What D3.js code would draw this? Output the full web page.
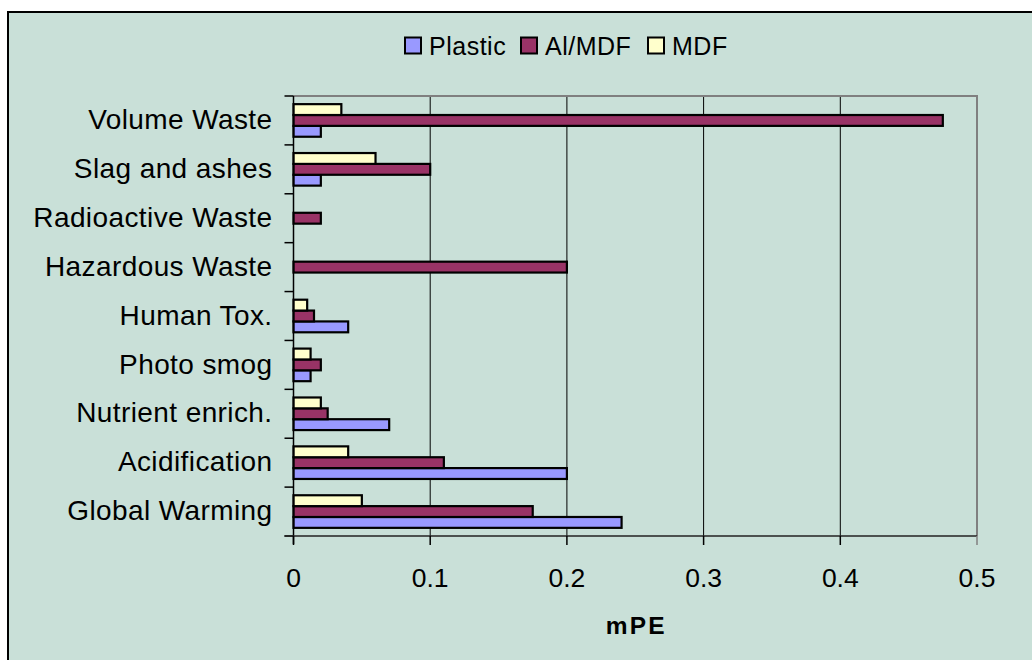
<!DOCTYPE html>
<html>
<head>
<meta charset="utf-8">
<script src="https://cdn.jsdelivr.net/npm/d3@7"></script>
<style>
  html, body { margin: 0; padding: 0; background: #ffffff; }
  svg { display: block; font-family: "Liberation Sans", Arial, sans-serif; }
</style>
</head>
<body>
<svg id="chart" width="1032" height="660"></svg>
<script>
// ---- data ----
const categories = ["Global Warming", "Acidification", "Nutrient enrich.", "Photo smog", "Human Tox.",
                    "Hazardous Waste", "Radioactive Waste", "Slag and ashes", "Volume Waste"];
const seriesNames = ["Plastic", "Al/MDF", "MDF"];
const plasticValues = [0.24, 0.2, 0.07, 0.0125, 0.04, 0, 0, 0.02, 0.02];
const alMdfValues   = [0.175, 0.11, 0.025, 0.02, 0.015, 0.2, 0.02, 0.1, 0.475];
const mdfValues     = [0.05, 0.04, 0.02, 0.0125, 0.01, 0, 0, 0.06, 0.035];
const xTicks = [0, 0.1, 0.2, 0.3, 0.4, 0.5];
const xTickLabels = ["0", "0.1", "0.2", "0.3", "0.4", "0.5"];
const axisTitle = "mPE";
const seriesColors = ["#9999FF", "#993366", "#FFFFCC"];

// ---- layout ----
const svg = d3.select("#chart");
const bg = "#C9E0D8";
const plot = { left: 293.5, right: 977, top: 96, bottom: 536 };

// chart area background + border (top/left visible)
svg.append("rect").attr("x", 8).attr("y", 12).attr("width", 1100).attr("height", 700)
  .attr("fill", bg).attr("stroke", "#000").attr("stroke-width", 2);

const x = d3.scaleLinear().domain([0, 0.5]).range([plot.left, plot.right]);
const yCats = categories.slice().reverse(); // top to bottom
const y = d3.scaleBand().domain(yCats).range([plot.top, plot.bottom]).paddingInner(0).paddingOuter(0);
const drawOrder = ["MDF", "Al/MDF", "Plastic"]; // top to bottom within group
const ySub = d3.scaleBand().domain(drawOrder).range([0, y.bandwidth()]).paddingInner(0).paddingOuter(0.75);

const valuesBySeries = { "Plastic": plasticValues, "Al/MDF": alMdfValues, "MDF": mdfValues };
const colorBySeries = {};
seriesNames.forEach((s, i) => colorBySeries[s] = seriesColors[i]);

// gridlines
svg.append("g").selectAll("line").data(xTicks.slice(1, -1)).join("line")
  .attr("x1", d => x(d)).attr("x2", d => x(d))
  .attr("y1", plot.top).attr("y2", plot.bottom)
  .attr("stroke", "#000").attr("stroke-width", 1);

// plot border top & right (grey)
svg.append("path")
  .attr("d", `M${plot.left},${plot.top}H${plot.right}V${plot.bottom}`)
  .attr("fill", "none").attr("stroke", "#808080").attr("stroke-width", 2);

// bars
const rows = [];
categories.forEach((c, i) => {
  seriesNames.forEach(s => rows.push({ cat: c, series: s, value: valuesBySeries[s][i] }));
});
svg.append("g").selectAll("rect").data(rows.filter(d => d.value > 0)).join("rect")
  .attr("x", x(0))
  .attr("y", d => y(d.cat) + ySub(d.series))
  .attr("width", d => x(d.value) - x(0))
  .attr("height", ySub.bandwidth())
  .attr("fill", d => colorBySeries[d.series])
  .attr("stroke", "#000").attr("stroke-width", 2.2);

// y axis
const yAxisG = svg.append("g");
yAxisG.append("line").attr("x1", plot.left).attr("x2", plot.left)
  .attr("y1", plot.top).attr("y2", plot.bottom + 8).attr("stroke", "#000").attr("stroke-width", 1.5);
const yTickPos = d3.range(categories.length + 1).map(i => plot.top + i * y.step());
yAxisG.selectAll("line.tk").data(yTickPos).join("line").attr("class", "tk")
  .attr("x1", plot.left - 9).attr("x2", plot.left).attr("y1", d => d).attr("y2", d => d)
  .attr("stroke", "#000").attr("stroke-width", 1.5);
yAxisG.selectAll("text").data(yCats).join("text")
  .attr("x", 272.5).attr("y", d => y(d) + y.bandwidth() / 2)
  .attr("dy", "0.31em")
  .attr("text-anchor", "end").attr("font-size", 28).attr("letter-spacing", 0.4).attr("fill", "#000")
  .text(d => d);

// x axis
const xAxisG = svg.append("g");
xAxisG.append("line").attr("x1", plot.left - 9).attr("x2", plot.right)
  .attr("y1", plot.bottom).attr("y2", plot.bottom).attr("stroke", "#222").attr("stroke-width", 1.5);
xAxisG.selectAll("line.tk").data(xTicks).join("line").attr("class", "tk")
  .attr("x1", d => x(d)).attr("x2", d => x(d)).attr("y1", plot.bottom).attr("y2", plot.bottom + 9)
  .attr("stroke", (d, i) => i === xTicks.length - 1 ? "#808080" : "#000").attr("stroke-width", 1.5);
xAxisG.selectAll("text").data(xTicks).join("text")
  .attr("x", d => x(d)).attr("y", 587)
  .attr("text-anchor", "middle").attr("font-size", 26.5).attr("fill", "#000")
  .text((d, i) => xTickLabels[i]);
svg.append("text").attr("x", (plot.left + plot.right) / 2 + 1).attr("y", 634.3)
  .attr("text-anchor", "middle").attr("font-size", 24.5).attr("font-weight", "bold")
  .attr("letter-spacing", 2.2)
  .text(axisTitle);

// legend
const legendItems = [
  { name: "Plastic", sx: 405 },
  { name: "Al/MDF", sx: 521 },
  { name: "MDF", sx: 648 }
];
const lg = svg.append("g").selectAll("g").data(legendItems).join("g");
lg.append("rect").attr("x", d => d.sx).attr("y", 37.5).attr("width", 16).attr("height", 16)
  .attr("fill", d => colorBySeries[d.name]).attr("stroke", "#000").attr("stroke-width", 2);
lg.append("text").attr("x", d => d.sx + 24).attr("y", 54.5)
  .attr("font-size", 25).attr("letter-spacing", 0.5).attr("fill", "#000").text(d => d.name);
</script>
</body>
</html>
